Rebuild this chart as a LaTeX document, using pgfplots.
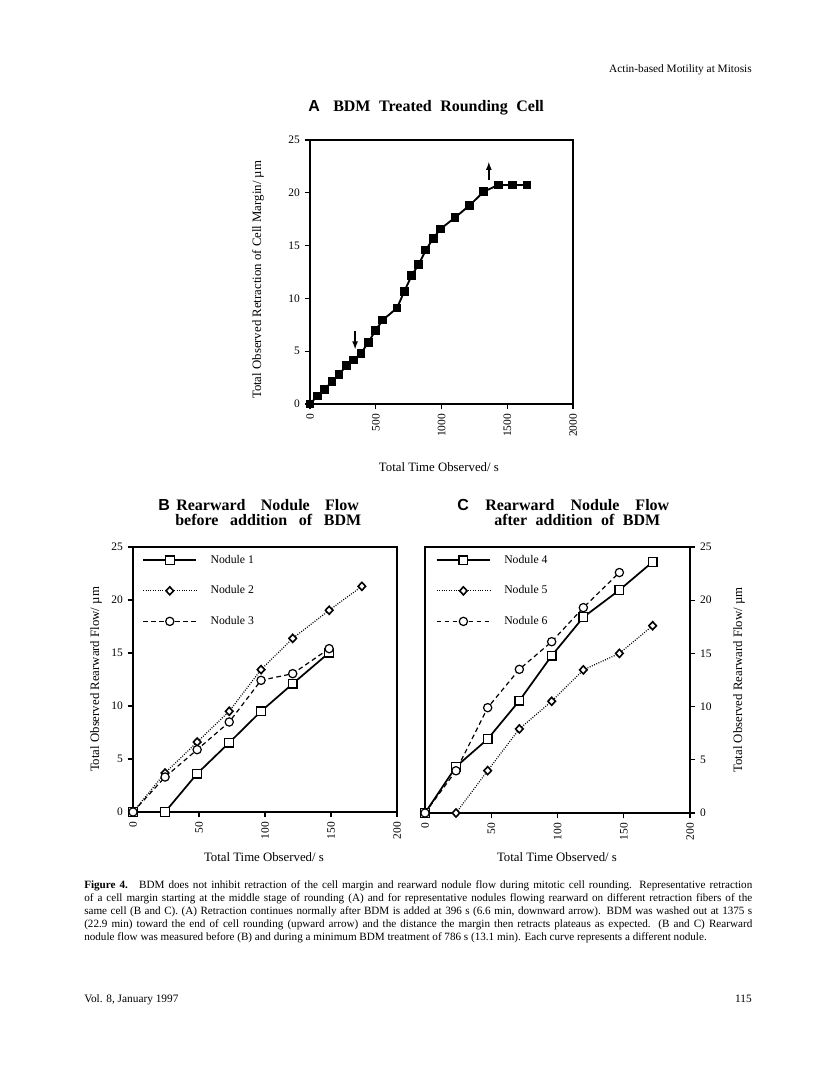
\documentclass[border=0pt]{standalone}
\usepackage{fontspec}
\setmainfont{Liberation Serif}
\newfontfamily\hel{Liberation Sans}
\usepackage{pgfplots}
\pgfplotsset{compat=1.18}
\pgfplotsset{
  legend image code/.code={\draw[mark repeat=2,mark phase=2,#1] plot coordinates {(0pt,0pt) (20pt,0pt) (40pt,0pt)};},
  panel/.style={
    scale only axis, clip=false,
    axis line style={line width=1pt},
    tick style={line width=0.9pt, black},
    tick align=outside, major tick length=4pt,
    ticklabel style={font=\fontsize{8.6}{9}\selectfont},
    /pgf/number format/assume math mode=true,
    /pgf/number format/1000 sep={},
    xticklabel style={rotate=90, anchor=east},
    label style={font=\fontsize{9.6}{11}\selectfont},
    xtick pos=left,
    ymin=0, ymax=25, ytick={0,5,10,15,20,25},
  },
  nod/.style={
    xmin=0, xmax=200, xtick={0,50,100,150,200},
    legend cell align=left,
    legend style={draw=none, fill=none, inner sep=0pt, row sep=13.3pt, column sep=9pt,
      font=\fontsize{8.8}{10}\selectfont,
      nodes={inner sep=1pt}},
  },
  n1/.style={black, line width=1.3pt, mark=square*, mark size=3.3pt, mark options={solid, fill=white, draw=black, line width=1pt}},
  n2/.style={black, line width=0.9pt, dash pattern=on 0.7pt off 1.1pt, mark=diamond*, mark size=3pt, mark options={solid, fill=white, draw=black, line width=1.2pt, xscale=1.25}},
  n3/.style={black, line width=0.9pt, dash pattern=on 3.5pt off 2.5pt, mark=*, mark size=3.1pt, mark options={solid, fill=white, draw=black, line width=0.9pt}},
}
\begin{document}
\begin{tikzpicture}[x=0.75pt,y=0.75pt]
\path[use as bounding box] (0,0) rectangle (816,1081);
% header
\node[anchor=base east, inner sep=0pt, font=\fontsize{8.5}{10}\selectfont] at (752,1081-73) {Actin-based Motility at Mitosis};
% titles
\node[anchor=base west, inner sep=0pt, font=\hel\bfseries\fontsize{12}{14}\selectfont] at (308,1081-112) {A};
\node[anchor=base west, inner sep=0pt, font=\bfseries\fontsize{12}{14}\selectfont] at (333,1081-112) {\makebox[158pt][s]{BDM Treated Rounding Cell}};
\node[anchor=base west, inner sep=0pt, font=\hel\bfseries\fontsize{12}{14}\selectfont] at (158,1081-511) {B};
\node[anchor=base west, inner sep=0pt, font=\bfseries\fontsize{12}{14}\selectfont] at (176,1081-511) {\makebox[137pt][s]{Rearward Nodule Flow}};
\node[anchor=base west, inner sep=0pt, font=\bfseries\fontsize{12}{14}\selectfont] at (175,1081-526) {\makebox[139.5pt][s]{before addition of BDM}};
\node[anchor=base west, inner sep=0pt, font=\hel\bfseries\fontsize{12}{14}\selectfont] at (457,1081-511) {C};
\node[anchor=base west, inner sep=0pt, font=\bfseries\fontsize{12}{14}\selectfont] at (485,1081-511) {\makebox[138pt][s]{Rearward Nodule Flow}};
\node[anchor=base west, inner sep=0pt, font=\bfseries\fontsize{12}{14}\selectfont] at (494,1081-526) {\makebox[124.5pt][s]{after addition of BDM}};

% Panel A
\begin{axis}[panel, at={(232.5pt,507.75pt)}, anchor=south west,
  width=197.25pt, height=198pt,
  xmin=0, xmax=2000, xtick={0,500,1000,1500,2000},
  ytick pos=left,
  xlabel={Total Time Observed/ s},
  ylabel={Total Observed Retraction of Cell Margin/ µm},
  xlabel style={at={(axis description cs:0.49,-0.239)}, anchor=center},
  ylabel style={at={(axis description cs:-0.198,0.47)}, anchor=center},
]
\addplot[black, line width=1.4pt, mark=square*, mark size=2.6pt] coordinates {
(0,0) (56,0.76) (112,1.39) (168,2.15) (221,2.81) (277,3.63) (332,4.17) (388,4.80)
(442,5.81) (497,6.94) (553,7.95) (662,9.09) (716,10.64) (774,12.18) (827,13.23)
(881,14.58) (937,15.69) (992,16.57) (1102,17.65) (1211,18.78) (1322,20.11)
(1431,20.74) (1541,20.74) (1650,20.74)};
\draw[line width=1pt, -latex] (axis cs:343,6.9) -- (axis cs:343,5.2);
\draw[line width=1pt, -latex] (axis cs:1360,21.2) -- (axis cs:1360,22.9);
\end{axis}

% Panel B
\begin{axis}[panel, nod, at={(99.75pt,201.75pt)}, anchor=south west,
  width=198pt, height=198.75pt,
  ytick pos=left,
  xlabel={Total Time Observed/ s},
  ylabel={Total Observed Rearward Flow/ µm},
  xlabel style={at={(axis description cs:0.496,-0.17)}, anchor=center},
  ylabel style={at={(axis description cs:-0.14,0.5)}, anchor=center},
  legend style={at={(axis description cs:0.034,0.975)}, anchor=north west},
]
\addplot[n1] coordinates {(0,0) (24.3,0) (48.6,3.62) (72.9,6.54) (97,9.50) (121,12.1) (148.6,15.03)};
\addlegendentry{Nodule 1}
\addplot[n2] coordinates {(0,0) (24.3,3.68) (48.6,6.60) (72.9,9.50) (97,13.43) (121,16.38) (148.6,19.03) (173.4,21.29)};
\addlegendentry{Nodule 2}
\addplot[n3] coordinates {(0,0) (24.3,3.30) (48.6,5.88) (72.9,8.49) (97,12.42) (121,13.05) (148.6,15.41)};
\addlegendentry{Nodule 3}
\end{axis}

% Panel C
\begin{axis}[panel, nod, at={(318.75pt,201pt)}, anchor=south west,
  width=198.75pt, height=199.5pt,
  ytick pos=right, yticklabel pos=right,
  xlabel={Total Time Observed/ s},
  ylabel={Total Observed Rearward Flow/ µm},
  xlabel style={at={(axis description cs:0.498,-0.165)}, anchor=center},
  ylabel style={at={(axis description cs:1.185,0.5)}, anchor=center},
  legend style={at={(axis description cs:0.04,0.975)}, anchor=north west},
]
\addplot[n1] coordinates {(0,0) (23.4,4.35) (47.3,6.95) (71.2,10.55) (95.6,14.78) (119.5,18.4) (146.7,20.95) (171.8,23.6)};
\addlegendentry{Nodule 4}
\addplot[n2] coordinates {(0,0) (23.4,0) (47.3,3.98) (71.2,7.9) (95.6,10.5) (119.5,13.45) (146.7,15.0) (171.8,17.6)};
\addlegendentry{Nodule 5}
\addplot[n3] coordinates {(0,0) (23.4,3.97) (47.3,9.9) (71.2,13.5) (95.6,16.1) (119.5,19.3) (146.7,22.6)};
\addlegendentry{Nodule 6}
\end{axis}

% caption
\node[anchor=north west, inner sep=0pt, text width=501pt, align=justify] at (84,1081-880) {\fontsize{8.35}{9.75}\selectfont\textbf{Figure 4.}\hspace{1em}BDM does not inhibit retraction of the cell margin and rearward nodule flow during mitotic cell rounding. Representative retraction\linebreak
of a cell margin starting at the middle stage of rounding (A) and for representative nodules flowing rearward on different retraction fibers of the\linebreak
same cell (B and C). (A) Retraction continues normally after BDM is added at 396 s (6.6 min, downward arrow). BDM was washed out at 1375 s\linebreak
(22.9 min) toward the end of cell rounding (upward arrow) and the distance the margin then retracts plateaus as expected. (B and C) Rearward\linebreak
nodule flow was measured before (B) and during a minimum BDM treatment of 786 s (13.1 min). Each curve represents a different nodule.\par};
% footer
\node[anchor=base west, inner sep=0pt, font=\fontsize{8.5}{10}\selectfont] at (84,1081-1003) {Vol. 8, January 1997};
\node[anchor=base east, inner sep=0pt, font=\fontsize{8.5}{10}\selectfont] at (752,1081-1003) {115};
\end{tikzpicture}
\end{document}
